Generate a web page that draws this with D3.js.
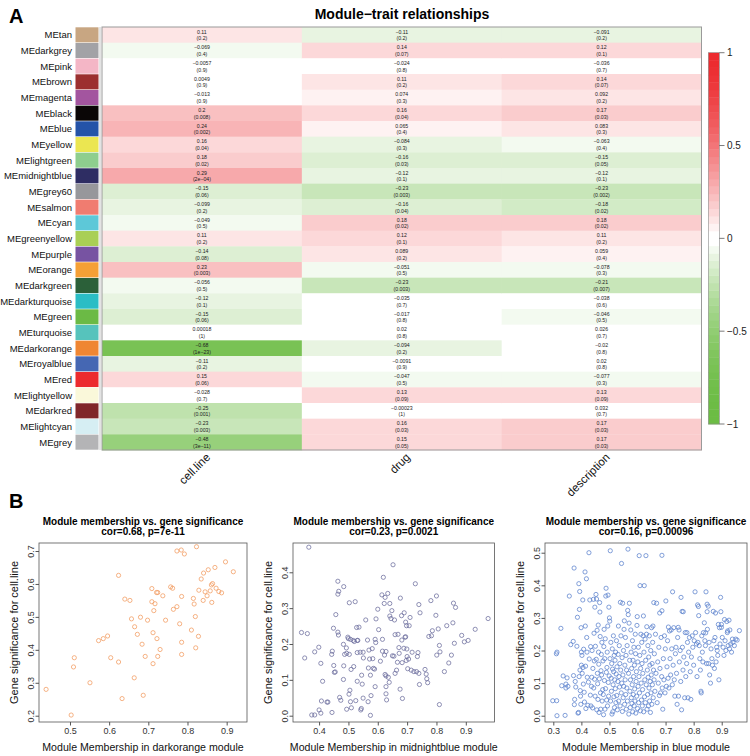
<!DOCTYPE html>
<html><head><meta charset="utf-8">
<script src="https://cdn.jsdelivr.net/npm/d3@7"></script>
<style>body{margin:0;background:#fff} text{font-family:"Liberation Sans",Arial,Helvetica,sans-serif}</style>
</head><body><svg id="c" width="750" height="756"></svg>
<script>
// ---------------- DATA ----------------
const modules = ["MEtan","MEdarkgrey","MEpink","MEbrown","MEmagenta","MEblack","MEblue","MEyellow","MElightgreen","MEmidnightblue","MEgrey60","MEsalmon","MEcyan","MEgreenyellow","MEpurple","MEorange","MEdarkgreen","MEdarkturquoise","MEgreen","MEturquoise","MEdarkorange","MEroyalblue","MEred","MElightyellow","MEdarkred","MElightcyan","MEgrey"];
const moduleColors = ["#C8A682","#A2A2A6","#F4B6C6","#9C2F2F","#A3559F","#0A0606","#2453A8","#EBE651","#8ECE8E","#2E2D63","#97979B","#F07C70","#5DC8D8","#A9CF55","#7753A2","#F5A036","#2B6039","#2ABDC5","#6BBA45","#56C3BC","#EF8633","#4567B3","#EC2B2F","#FAF8DA","#802629","#D6EEF3","#B4B4B6"];
const traits = ["cell.line","drug","description"];
const corCellLine = [0.11,-0.069,-0.0057,0.0049,-0.013,0.2,0.24,0.16,0.18,0.29,-0.15,-0.099,-0.049,0.11,-0.14,0.23,-0.056,-0.12,-0.15,0.00018,-0.68,-0.11,0.15,-0.028,-0.25,-0.23,-0.48];
const pCellLine = ["0.2","0.4","0.9","0.9","0.9","0.008","0.002","0.04","0.02","2e-04","0.06","0.2","0.5","0.2","0.08","0.003","0.5","0.1","0.06","1","1e-23","0.2","0.06","0.7","0.001","0.003","3e-11"];
const corDrug = [-0.11,0.14,-0.024,0.11,0.074,0.16,0.065,-0.084,-0.16,-0.12,-0.23,-0.16,0.18,0.12,0.089,-0.051,-0.23,-0.035,-0.017,0.02,-0.094,-0.0091,-0.047,0.13,-0.00023,0.16,0.15];
const pDrug = ["0.2","0.07","0.8","0.2","0.3","0.04","0.4","0.3","0.03","0.1","0.003","0.04","0.02","0.1","0.2","0.5","0.003","0.7","0.8","0.8","0.2","0.9","0.5","0.09","1","0.03","0.05"];
const corDescription = [-0.091,0.12,-0.036,0.14,0.092,0.17,0.083,-0.063,-0.15,-0.12,-0.23,-0.18,0.18,0.11,0.059,-0.078,-0.21,-0.038,-0.046,0.026,-0.02,0.02,-0.077,0.13,0.032,0.17,0.17];
const pDescription = ["0.2","0.1","0.7","0.07","0.2","0.03","0.3","0.4","0.05","0.1","0.002","0.02","0.02","0.2","0.4","0.3","0.007","0.6","0.5","0.7","0.8","0.8","0.3","0.09","0.7","0.03","0.03"];
const legendTicks = [1,0.5,0,-0.5,-1];

// Scatter: module membership (x) vs gene significance for cell.line (y)
const darkorangePoints = [[0.439,0.280],[0.503,0.202],[0.511,0.376],[0.509,0.348],[0.551,0.300],[0.573,0.428],[0.585,0.434],[0.596,0.442],[0.604,0.376],[0.624,0.363],[0.624,0.626],[0.633,0.252],[0.640,0.554],[0.653,0.550],[0.657,0.494],[0.664,0.315],[0.665,0.470],[0.672,0.447],[0.680,0.499],[0.684,0.417],[0.687,0.262],[0.692,0.380],[0.698,0.490],[0.709,0.586],[0.709,0.546],[0.712,0.452],[0.712,0.358],[0.714,0.519],[0.717,0.540],[0.721,0.574],[0.724,0.574],[0.722,0.434],[0.724,0.380],[0.730,0.401],[0.737,0.564],[0.744,0.490],[0.757,0.591],[0.762,0.587],[0.764,0.523],[0.773,0.700],[0.773,0.531],[0.780,0.479],[0.784,0.703],[0.785,0.562],[0.785,0.423],[0.785,0.386],[0.792,0.691],[0.810,0.460],[0.815,0.556],[0.817,0.539],[0.820,0.501],[0.821,0.406],[0.823,0.713],[0.828,0.441],[0.829,0.581],[0.835,0.615],[0.840,0.550],[0.841,0.633],[0.845,0.576],[0.850,0.564],[0.853,0.643],[0.858,0.579],[0.861,0.597],[0.862,0.544],[0.864,0.601],[0.870,0.650],[0.873,0.587],[0.880,0.577],[0.887,0.573],[0.897,0.667],[0.917,0.637]];
const midnightbluePoints = [[0.365,0.470],[0.340,0.232],[0.360,0.229],[0.351,0.161],[0.385,0.178],[0.399,0.191],[0.406,0.146],[0.412,0.096],[0.375,0.002],[0.385,0.002],[0.400,0.016],[0.406,0.007],[0.408,0.041],[0.427,0.038],[0.430,0.038],[0.443,0.171],[0.445,0.180],[0.449,0.244],[0.450,0.140],[0.452,0.121],[0.455,0.122],[0.444,0.009],[0.457,0.282],[0.464,0.375],[0.467,0.347],[0.464,0.339],[0.464,0.233],[0.466,0.225],[0.470,0.051],[0.474,0.043],[0.484,0.360],[0.483,0.199],[0.484,0.139],[0.483,0.101],[0.487,0.171],[0.493,0.189],[0.494,0.174],[0.494,0.018],[0.498,0.219],[0.500,0.215],[0.503,0.315],[0.503,0.171],[0.502,0.060],[0.505,0.071],[0.507,0.039],[0.507,0.213],[0.509,0.129],[0.510,0.022],[0.516,0.210],[0.518,0.137],[0.520,0.207],[0.523,0.318],[0.525,0.042],[0.528,0.246],[0.530,0.210],[0.530,0.176],[0.530,0.096],[0.532,0.210],[0.536,0.247],[0.540,0.177],[0.542,0.016],[0.544,0.020],[0.545,0.113],[0.547,0.088],[0.550,0.177],[0.550,0.049],[0.551,0.161],[0.559,0.267],[0.565,0.211],[0.567,0.039],[0.568,0.133],[0.570,0.183],[0.572,0.158],[0.575,0.001],[0.575,0.113],[0.577,0.056],[0.581,0.187],[0.583,0.159],[0.585,0.132],[0.589,0.130],[0.591,0.081],[0.591,0.213],[0.593,0.204],[0.594,0.270],[0.600,0.297],[0.603,0.240],[0.609,0.152],[0.614,0.337],[0.616,0.213],[0.616,0.180],[0.619,0.386],[0.622,0.313],[0.625,0.330],[0.623,0.169],[0.625,0.115],[0.628,0.111],[0.628,0.081],[0.628,0.061],[0.630,0.044],[0.628,0.179],[0.634,0.341],[0.636,0.107],[0.641,0.313],[0.639,0.093],[0.641,0.278],[0.645,0.271],[0.648,0.293],[0.650,0.167],[0.652,0.421],[0.655,0.166],[0.657,0.267],[0.659,0.226],[0.659,0.118],[0.664,0.127],[0.667,0.149],[0.669,0.227],[0.672,0.190],[0.673,0.174],[0.676,0.074],[0.677,0.328],[0.681,0.279],[0.682,0.211],[0.683,0.148],[0.684,0.048],[0.689,0.188],[0.690,0.287],[0.693,0.219],[0.695,0.220],[0.695,0.261],[0.698,0.251],[0.697,0.154],[0.699,0.186],[0.700,0.165],[0.702,0.131],[0.705,0.158],[0.707,0.251],[0.710,0.274],[0.714,0.127],[0.717,0.177],[0.723,0.123],[0.728,0.368],[0.732,0.123],[0.735,0.165],[0.737,0.176],[0.740,0.118],[0.740,0.310],[0.742,0.087],[0.744,0.287],[0.761,0.129],[0.765,0.116],[0.767,0.103],[0.770,0.092],[0.774,0.221],[0.781,0.321],[0.783,0.223],[0.786,0.237],[0.798,0.280],[0.800,0.334],[0.801,0.169],[0.806,0.242],[0.810,0.196],[0.812,0.178],[0.810,0.031],[0.827,0.123],[0.835,0.251],[0.842,0.147],[0.851,0.169],[0.856,0.259],[0.858,0.314],[0.861,0.202],[0.865,0.302],[0.886,0.224],[0.895,0.206],[0.908,0.210],[0.932,0.241],[0.976,0.271]];
const bluePoints = [[0.298,0.046],[0.312,0.046],[0.311,0.190],[0.313,0.195],[0.313,0.000],[0.327,0.268],[0.330,0.092],[0.335,0.122],[0.345,0.085],[0.345,0.097],[0.342,0.001],[0.349,0.116],[0.352,0.090],
[0.357,0.367],[0.362,0.218],[0.371,0.228],[0.372,0.123],[0.374,0.453],[0.375,0.034],[0.376,0.050],[0.378,0.105],[0.380,0.088],[0.384,0.213],[0.386,0.302],[0.388,0.008],[0.390,0.010],[0.391,0.405],[0.392,0.120],[0.393,0.326],[0.394,0.381],[0.395,0.140],[0.396,0.077],[0.397,0.060],[0.398,0.035],[0.399,0.270],[0.400,0.155],[0.400,0.195],[0.402,0.185],[0.403,0.130],
[0.405,0.355],[0.406,0.148],[0.407,0.097],[0.408,0.204],[0.410,0.072],[0.411,0.042],[0.413,0.441],[0.414,0.275],[0.415,0.152],[0.416,0.022],[0.418,0.420],[0.419,0.240],[0.420,0.195],[0.421,0.118],[0.423,0.032],[0.425,0.103],[0.427,0.500],[0.428,0.174],[0.430,0.355],[0.432,0.063],[0.433,0.212],[0.434,0.030],[0.436,0.090],[0.437,0.118],[0.438,0.200],[0.440,0.024],[0.441,0.145],[0.443,0.357],[0.444,0.085],[0.445,0.253],[0.446,0.168],[0.447,0.112],[0.448,0.333],[0.449,0.060],
[0.450,0.213],[0.452,0.372],[0.453,0.173],[0.454,0.358],[0.455,0.018],[0.456,0.262],[0.457,0.130],[0.458,0.098],[0.459,0.050],[0.460,0.278],[0.461,0.195],[0.462,0.158],[0.463,0.010],[0.464,0.113],[0.465,0.347],[0.466,0.318],[0.467,0.243],[0.468,0.070],[0.469,0.020],[0.470,0.138],[0.471,0.188],[0.472,0.125],[0.473,0.225],[0.474,0.045],[0.476,0.080],[0.477,0.168],[0.478,0.065],[0.479,0.003],[0.480,0.212],[0.481,0.265],[0.482,0.108],[0.483,0.175],[0.484,0.020],[0.485,0.236],[0.486,0.083],[0.487,0.367],[0.488,0.391],[0.489,0.133],[0.490,0.048],[0.491,0.148],[0.492,0.195],[0.493,0.030],[0.494,0.275],[0.495,0.370],[0.496,0.102],[0.497,0.060],[0.498,0.333],[0.499,0.122],
[0.500,0.300],[0.501,0.290],[0.502,0.175],[0.503,0.506],[0.504,0.045],[0.505,0.225],[0.506,0.115],[0.507,0.075],[0.508,0.160],[0.509,0.005],[0.510,0.205],[0.511,0.143],[0.512,0.012],[0.513,0.095],[0.514,0.245],[0.515,0.135],[0.516,0.058],[0.517,0.185],[0.518,0.025],[0.519,0.110],[0.520,0.170],[0.521,0.083],[0.522,0.195],[0.523,0.040],[0.524,0.128],[0.525,0.230],[0.526,0.062],[0.527,0.150],[0.528,0.018],[0.530,0.105],[0.531,0.188],[0.532,0.275],[0.533,0.045],[0.534,0.120],[0.535,0.215],[0.536,0.088],[0.537,0.160],[0.538,0.030],[0.539,0.348],[0.540,0.140],[0.541,0.245],[0.542,0.070],[0.543,0.467],[0.544,0.100],[0.545,0.178],[0.546,0.013],[0.547,0.345],[0.548,0.125],[0.549,0.055],
[0.550,0.200],[0.551,0.090],[0.552,0.265],[0.553,0.291],[0.554,0.035],[0.555,0.155],[0.556,0.110],[0.557,0.240],[0.558,0.065],[0.559,0.185],[0.560,0.020],[0.561,0.140],[0.562,0.085],[0.563,0.215],[0.564,0.045],[0.565,0.323],[0.566,0.511],[0.567,0.310],[0.568,0.130],[0.569,0.005],[0.570,0.284],[0.571,0.345],[0.572,0.170],[0.573,0.075],[0.574,0.025],[0.575,0.110],[0.576,0.263],[0.577,0.195],[0.578,0.055],[0.579,0.145],[0.580,0.038],[0.581,0.095],[0.582,0.230],[0.583,0.012],[0.584,0.170],[0.585,0.065],[0.586,0.120],[0.587,0.210],[0.588,0.030],[0.589,0.155],[0.590,0.082],[0.591,0.045],[0.592,0.250],[0.593,0.190],[0.594,0.008],[0.595,0.105],[0.596,0.135],[0.597,0.060],[0.598,0.277],[0.599,0.304],
[0.600,0.022],[0.601,0.165],[0.602,0.090],[0.603,0.210],[0.604,0.040],[0.605,0.120],[0.606,0.491],[0.607,0.070],[0.608,0.185],[0.609,0.399],[0.610,0.015],[0.611,0.145],[0.612,0.250],[0.613,0.100],[0.614,0.048],[0.615,0.225],[0.616,0.160],[0.617,0.030],[0.618,0.080],[0.619,0.130],[0.620,0.245],[0.621,0.306],[0.622,0.012],[0.623,0.195],[0.624,0.399],[0.625,0.058],[0.626,0.110],[0.627,0.235],[0.628,0.040],[0.629,0.170],[0.630,0.491],[0.631,0.095],[0.632,0.250],[0.633,0.273],[0.634,0.020],[0.635,0.140],[0.636,0.065],[0.637,0.215],[0.638,0.118],[0.639,0.030],[0.640,0.180],[0.641,0.085],[0.642,0.245],[0.643,0.045],[0.644,0.155],[0.645,0.105],[0.646,0.010],[0.647,0.200],[0.648,0.070],[0.649,0.125],
[0.650,0.270],[0.651,0.035],[0.652,0.160],[0.653,0.095],[0.654,0.225],[0.655,0.275],[0.656,0.055],[0.657,0.140],[0.658,0.347],[0.659,0.110],[0.660,0.190],[0.662,0.075],[0.664,0.250],[0.666,0.130],[0.668,0.345],[0.670,0.040],[0.672,0.165],[0.674,0.100],[0.676,0.210],[0.678,0.062],[0.679,0.315],[0.680,0.145],[0.682,0.070],[0.684,0.240],[0.686,0.120],[0.687,0.322],[0.687,0.492],[0.688,0.085],[0.690,0.020],[0.692,0.175],[0.694,0.110],[0.696,0.245],[0.698,0.070],[0.699,0.205],
[0.701,0.352],[0.703,0.090],[0.705,0.150],[0.707,0.230],[0.709,0.115],[0.710,0.272],[0.712,0.085],[0.714,0.260],[0.716,0.175],[0.718,0.125],[0.720,0.263],[0.722,0.205],[0.724,0.095],[0.725,0.380],[0.727,0.155],[0.729,0.270],[0.731,0.110],[0.733,0.060],[0.735,0.190],[0.737,0.210],[0.739,0.130],[0.741,0.035],[0.743,0.240],[0.745,0.271],[0.746,0.060],[0.748,0.263],[0.749,0.165],
[0.752,0.200],[0.754,0.105],[0.755,0.363],[0.757,0.018],[0.759,0.320],[0.760,0.210],[0.762,0.140],[0.763,0.319],[0.765,0.180],[0.768,0.055],[0.770,0.255],[0.772,0.120],[0.775,0.160],[0.776,0.255],[0.778,0.225],[0.780,0.055],[0.782,0.195],[0.785,0.240],[0.788,0.135],[0.790,0.050],[0.792,0.180],[0.795,0.245],[0.797,0.210],
[0.800,0.155],[0.802,0.230],[0.805,0.380],[0.807,0.255],[0.810,0.220],[0.812,0.120],[0.814,0.340],[0.815,0.225],[0.817,0.335],[0.818,0.307],[0.820,0.215],[0.822,0.175],[0.824,0.140],[0.826,0.075],[0.827,0.070],[0.829,0.245],[0.831,0.195],[0.833,0.165],[0.835,0.255],[0.838,0.285],[0.840,0.230],[0.842,0.215],[0.843,0.254],[0.844,0.380],[0.846,0.160],[0.848,0.342],[0.848,0.319],[0.849,0.265],
[0.852,0.336],[0.853,0.160],[0.855,0.225],[0.857,0.125],[0.860,0.100],[0.862,0.205],[0.865,0.175],[0.867,0.155],[0.870,0.320],[0.872,0.230],[0.874,0.145],[0.876,0.240],[0.878,0.315],[0.880,0.165],[0.882,0.210],[0.884,0.200],[0.886,0.185],[0.888,0.280],[0.890,0.110],[0.892,0.270],[0.894,0.220],[0.896,0.363],[0.897,0.319],[0.899,0.271],[0.899,0.280],
[0.902,0.240],[0.905,0.210],[0.908,0.185],[0.910,0.295],[0.912,0.230],[0.915,0.200],[0.918,0.289],[0.920,0.255],[0.921,0.260],[0.923,0.215],[0.926,0.293],[0.928,0.205],[0.929,0.263],[0.932,0.220],[0.935,0.195],[0.938,0.235],[0.940,0.225],[0.945,0.215],[0.950,0.235],[0.955,0.232],[0.963,0.261]];

const scatterPanels = [
  {module:"darkorange", points:darkorangePoints, cor:"0.68", p:"7e-11", color:"#F29A5E", xTicks:[0.5,0.6,0.7,0.8,0.9], yTicks:[0.2,0.3,0.4,0.5,0.6,0.7]},
  {module:"midnightblue", points:midnightbluePoints, cor:"0.23", p:"0.0021", color:"#6B6C9C", xTicks:[0.4,0.5,0.6,0.7,0.8,0.9], yTicks:[0,0.1,0.2,0.3,0.4]},
  {module:"blue", points:bluePoints, cor:"0.16", p:"0.00096", color:"#5A80CC", xTicks:[0.3,0.4,0.5,0.6,0.7,0.8,0.9], yTicks:[0,0.1,0.2,0.3,0.4,0.5]}
];

// ---------------- LAYOUT (axis windows) ----------------
const panelLayout = [
  {L:39,  R:247, xDomain:[0.4209,0.9519], yDomain:[0.1809,0.7243]},
  {L:293, R:494.5, xDomain:[0.3111,0.9978], yDomain:[-0.0176,0.4817]},
  {L:545, R:747, xDomain:[0.2704,0.9901], yDomain:[-0.0193,0.5298]}
];

// ---------------- DRAW ----------------
const svg = d3.select("#c");
svg.append("rect").attr("width",750).attr("height",756).attr("fill","#fff");
const minus = s => String(s).replace(/-/g,"\u2212");

// Panel A
svg.append("text").attr("x",9).attr("y",23).attr("font-size",20).attr("font-weight","bold").text("A");
svg.append("text").attr("x",402).attr("y",19).attr("text-anchor","middle").attr("font-size",14).attr("font-weight","bold").text("Module\u2212trait relationships");

const yRow = d3.scaleBand().domain(modules).range([27,450]);
const xCol = d3.scaleBand().domain(traits).range([102,701.5]);
const LOW = "#6CBC44", HIGH = "#EC2A2E", NCOL = 50, HALF = NCOL/2;
const binIndex = v => Math.max(0, Math.min(NCOL-1, Math.floor((v+1)/2*NCOL)));
const binColor = i => {
  if (i < HALF) { const f = (HALF-1-i)/(HALF-1); return d3.interpolateRgb("#fff",LOW)(1-Math.pow(1-f,2)); }
  const f = (i-HALF)/(HALF-1); return d3.interpolateRgb("#fff",HIGH)(1-Math.pow(1-f,1.5));
};

const cors = [corCellLine, corDrug, corDescription];
const ps = [pCellLine, pDrug, pDescription];
const cells = [];
traits.forEach((t,j)=> modules.forEach((m,i)=> cells.push({t, m, v:cors[j][i], p:ps[j][i]})));

const gA = svg.append("g");
gA.selectAll("rect.cell").data(cells).join("rect").attr("class","cell")
  .attr("x",d=>xCol(d.t)).attr("y",d=>yRow(d.m)).attr("width",xCol.bandwidth()+0.3).attr("height",yRow.bandwidth()+0.3)
  .attr("fill",d=>binColor(binIndex(d.v)));
const txt = gA.selectAll("text.cell").data(cells).join("text").attr("class","cell")
  .attr("x",d=>xCol(d.t)+xCol.bandwidth()/2).attr("text-anchor","middle").attr("font-size",5.2).attr("fill","#222");
txt.append("tspan").attr("x",d=>xCol(d.t)+xCol.bandwidth()/2).attr("y",d=>yRow(d.m)+yRow.bandwidth()/2-1.2).text(d=>minus(d.v));
txt.append("tspan").attr("x",d=>xCol(d.t)+xCol.bandwidth()/2).attr("y",d=>yRow(d.m)+yRow.bandwidth()/2+5.4).text(d=>"("+minus(d.p)+")");
gA.append("rect").attr("x",102).attr("y",27).attr("width",599.5).attr("height",423).attr("fill","none").attr("stroke","#9a9a9a").attr("stroke-width",1);
gA.append("line").attr("x1",100).attr("x2",100).attr("y1",27).attr("y2",450).attr("stroke","#c8c8c8").attr("stroke-width",1);

// swatches + labels
gA.selectAll("rect.sw").data(modules).join("rect").attr("class","sw")
  .attr("x",75.5).attr("y",d=>yRow(d)+0.3).attr("width",23).attr("height",yRow.bandwidth()-0.6)
  .attr("fill",(d,i)=>moduleColors[i]);
gA.selectAll("text.rl").data(modules).join("text").attr("class","rl")
  .attr("x",72).attr("y",d=>yRow(d)+yRow.bandwidth()/2+3.4).attr("text-anchor","end").attr("font-size",9.5).attr("fill","#111").text(d=>d);
gA.selectAll("text.cl").data(traits).join("text").attr("class","cl")
  .attr("transform",d=>`translate(${xCol(d)+xCol.bandwidth()/2+9},458) rotate(-45)`)
  .attr("text-anchor","end").attr("font-size",11.5).attr("fill","#111").text(d=>d);

// legend
const ly = d3.scaleLinear().domain([-1,1]).range([424,52.7]);
const bins = d3.range(NCOL);
gA.selectAll("rect.lg").data(bins).join("rect").attr("class","lg")
  .attr("x",708.3).attr("width",11).attr("y",i=>ly(-1+(i+1)*2/NCOL)).attr("height",i=>ly(-1+i*2/NCOL)-ly(-1+(i+1)*2/NCOL)+0.4)
  .attr("fill",i=>binColor(i));
gA.append("rect").attr("x",708.3).attr("y",52.7).attr("width",11).attr("height",424-52.7).attr("fill","none").attr("stroke","#8a8a8a").attr("stroke-width",0.6);
const lt = gA.selectAll("g.lt").data(legendTicks).join("g").attr("class","lt").attr("transform",d=>`translate(0,${ly(d)})`);
lt.append("line").attr("x1",719.3).attr("x2",724.5).attr("stroke","#444").attr("stroke-width",0.7);
lt.append("text").attr("x",727).attr("y",3.5).attr("font-size",10).attr("fill","#222").text(d=>minus(d));

// Panel B
svg.append("text").attr("x",9).attr("y",508).attr("font-size",20).attr("font-weight","bold").text("B");
const boxTop = 543, boxBottom = 722;
scatterPanels.forEach((P,k)=>{
  const {L,R,xDomain,yDomain} = panelLayout[k];
  const xs = d3.scaleLinear().domain(xDomain).range([L,R]);
  const ys = d3.scaleLinear().domain(yDomain).range([boxBottom,boxTop]);
  const g = svg.append("g");
  const cx = (L+R)/2;
  g.append("text").attr("x",cx).attr("y",525).attr("text-anchor","middle").attr("font-size",10).attr("font-weight","bold").text("Module membership vs. gene significance");
  g.append("text").attr("x",cx).attr("y",534.7).attr("text-anchor","middle").attr("font-size",10).attr("font-weight","bold").text(`cor=${P.cor}, p=${P.p}`);
  g.selectAll("circle").data(P.points).join("circle").attr("cx",d=>xs(d[0])).attr("cy",d=>ys(d[1])).attr("r",2.1)
    .attr("fill","none").attr("stroke",P.color).attr("stroke-width",0.75);
  g.append("rect").attr("x",L).attr("y",boxTop).attr("width",R-L).attr("height",boxBottom-boxTop).attr("fill","none").attr("stroke","#555").attr("stroke-width",0.8);
  const xa = g.append("g").attr("transform",`translate(0,${boxBottom})`)
    .call(d3.axisBottom(xs).tickValues(P.xTicks).tickFormat(d3.format(".1f")).tickSizeInner(3.5).tickSizeOuter(0).tickPadding(2.5));
  xa.select(".domain").remove();
  xa.selectAll("line").attr("stroke","#555");
  xa.selectAll("text").attr("font-size",9).attr("fill","#333").attr("font-family","Liberation Sans, Arial, sans-serif");
  const ya = g.append("g").attr("transform",`translate(${L},0)`)
    .call(d3.axisLeft(ys).tickValues(P.yTicks).tickFormat(d3.format(".1f")).tickSizeInner(3.5).tickSizeOuter(0).tickPadding(2));
  ya.select(".domain").remove();
  ya.selectAll("line").attr("stroke","#555");
  ya.selectAll("text").attr("font-size",9).attr("fill","#333").attr("font-family","Liberation Sans, Arial, sans-serif")
    .attr("transform","rotate(-90)").attr("x",0).attr("y",-5.5).attr("dy",0).attr("text-anchor","middle");
  g.append("text").attr("x",cx).attr("y",751).attr("text-anchor","middle").attr("font-size",10.6).attr("fill","#111").text(`Module Membership in ${P.module} module`);
  g.append("text").attr("transform",`translate(${L-21},${(boxTop+boxBottom)/2}) rotate(-90)`).attr("text-anchor","middle").attr("font-size",11).attr("fill","#111").text("Gene significance for cell.line");
});
</script></body></html>
